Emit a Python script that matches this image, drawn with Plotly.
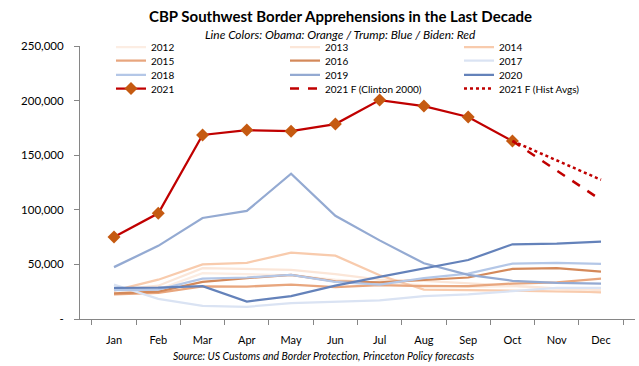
import plotly.graph_objects as go

months = ["Jan", "Feb", "Mar", "Apr", "May", "Jun", "Jul", "Aug", "Sep", "Oct", "Nov", "Dec"]

y2012 = [23500, 27000, 42000, 41000, 40000, 36000, 33000, 31000, 29500, 30000, 27500, 24000]
y2013 = [26500, 30500, 46500, 45500, 45000, 41000, 36000, 35000, 33000, 30500, 28000, 26500]
y2014 = [26000, 36000, 50000, 51500, 60700, 58000, 40000, 27000, 26500, 26000, 25000, 24500]
y2015 = [22500, 24000, 29800, 29700, 31500, 29300, 31000, 30000, 30000, 32500, 33500, 37000]
y2016 = [23500, 25000, 34000, 37500, 40300, 34500, 33500, 35500, 38000, 45800, 46500, 43300]
y2017 = [31500, 18500, 12000, 11200, 14500, 16000, 17000, 21000, 22500, 25500, 28500, 28500]
y2018 = [26500, 27000, 37000, 38000, 40300, 34000, 31500, 37500, 41500, 50800, 51500, 50500]
y2019 = [47500, 67000, 92500, 99000, 133000, 94500, 72000, 51000, 40500, 35000, 33000, 32500]
y2020 = [28500, 28800, 30000, 16000, 21000, 30500, 38500, 46500, 54000, 68400, 69000, 70800]
y2021 = [75000, 96800, 168500, 173000, 172000, 178500, 200500, 195000, 185000, 163000, None, None]
f_clinton = [None] * 9 + [163000, 136000, 109000]
f_hist = [None] * 9 + [163000, 145000, 127500]

ytick_vals = [0, 50000, 100000, 150000, 200000, 250000]
ytick_text = ["-", "50,000", "100,000", "150,000", "200,000", "250,000"]

FONT = "Lato"

series = [
    ("2012", y2012, "#FCEDE3", "solid", "legend"),
    ("2013", y2013, "#FBE6D8", "solid", "legend"),
    ("2014", y2014, "#F8CBAD", "solid", "legend"),
    ("2015", y2015, "#E8A67E", "solid", "legend2"),
    ("2016", y2016, "#D4895A", "solid", "legend2"),
    ("2017", y2017, "#DAE3F3", "solid", "legend2"),
    ("2018", y2018, "#B4C7E7", "solid", "legend3"),
    ("2019", y2019, "#94AAD2", "solid", "legend3"),
    ("2020", y2020, "#6482BA", "solid", "legend3"),
]

fig = go.Figure()
for name, vals, color, dash, leg in series:
    fig.add_trace(go.Scatter(x=months, y=vals, name=name, mode="lines",
                             line=dict(color=color, width=2.25, dash=dash),
                             legend=leg, hoverinfo="skip"))

fig.add_trace(go.Scatter(x=months, y=y2021, name="2021", mode="lines+markers",
                         line=dict(color="#C00000", width=2.25),
                         marker=dict(symbol="diamond", size=10, color="#C55A11"),
                         legend="legend4"))
fig.add_trace(go.Scatter(x=months, y=f_clinton, name="2021 F (Clinton 2000)", mode="lines",
                         line=dict(color="#C00000", width=2.5, dash="dash"),
                         legend="legend4"))
fig.add_trace(go.Scatter(x=months, y=f_hist, name="2021 F (Hist Avgs)", mode="lines",
                         line=dict(color="#C00000", width=2.5, dash="dot"),
                         legend="legend4"))

W, H = 639, 366
ML, MR, MT, MB = 80, 4, 46, 47
PW = W - ML - MR
PH = H - MT - MB

def px_x(p):
    return (p - ML) / PW

def px_y(p):
    return (H - MB - p) / PH

legend_common = dict(orientation="h", xref="paper", yref="paper",
                     x=px_x(111), xanchor="left", yanchor="middle",
                     bgcolor="rgba(0,0,0,0)", entrywidth=129, entrywidthmode="pixels",
                     font=dict(family=FONT, size=10, color="#000000"))
row_y = [47.1, 60.6, 74.8, 88.6]

layout_legends = {}
for i, key in enumerate(["legend", "legend2", "legend3", "legend4"]):
    d = dict(legend_common)
    d["y"] = px_y(row_y[i])
    layout_legends[key] = d

fig.update_layout(
    width=W, height=H,
    margin=dict(l=ML, r=MR, t=MT, b=MB, autoexpand=False),
    paper_bgcolor="white", plot_bgcolor="white",
    showlegend=True,
    font=dict(family=FONT, color="#000000"),
    **layout_legends,
)

fig.update_xaxes(type="category", showline=True, linecolor="#868686", linewidth=1,
                 ticks="outside", tickson="boundaries", ticklen=5, tickcolor="#868686",
                 showgrid=False, zeroline=False,
                 tickfont=dict(family=FONT, size=11, color="#000000"),
                 ticklabelstandoff=11)
fig.update_yaxes(range=[0, 250000], showline=True, linecolor="#868686", linewidth=1,
                 ticks="outside", ticklen=5, tickcolor="#868686",
                 tickvals=ytick_vals, ticktext=ytick_text,
                 showgrid=False, zeroline=False,
                 tickfont=dict(family=FONT, size=11.5, color="#000000"),
                 ticklabelstandoff=8)

fig.add_annotation(text="<b>CBP Southwest Border Apprehensions in the Last Decade</b>",
                   xref="paper", yref="paper", x=px_x(340), y=px_y(15.6),
                   xanchor="center", yanchor="middle", showarrow=False,
                   font=dict(family=FONT, size=15, color="#000000"))
fig.add_annotation(text="<i>Line Colors: Obama: Orange / Trump: Blue / Biden: Red</i>",
                   xref="paper", yref="paper", x=px_x(340), y=px_y(35),
                   xanchor="center", yanchor="middle", showarrow=False,
                   font=dict(family=FONT, size=11.9, color="#000000"))
fig.add_annotation(text="<i>Source: US Customs and Border Protection, Princeton Policy forecasts</i>",
                   xref="paper", yref="paper", x=px_x(323), y=px_y(356),
                   xanchor="center", yanchor="middle", showarrow=False,
                   font=dict(family=FONT, size=10.5, color="#000000"))

fig.write_html("out.html", config={"displayModeBar": False},
               post_script="document.body.style.margin='0';document.body.style.overflow='hidden';")
